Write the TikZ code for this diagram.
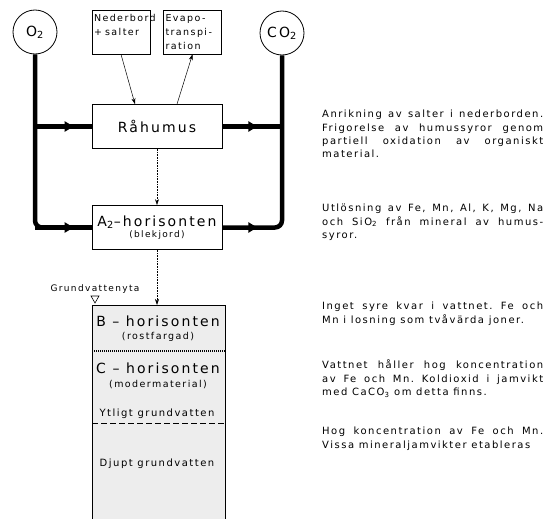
\documentclass[tikz,border=0pt]{standalone}
\usepackage{fontspec}
\setmainfont{DejaVu Sans}[LetterSpace=15]
\frenchspacing
\usetikzlibrary{arrows.meta,positioning,decorations.markings}

\tikzset{
  flow/.style={line width=4.5pt, rounded corners=7pt},
  flowarrow/.style={postaction={decorate}, decoration={markings,
      mark=at position #1 with {\arrow{Triangle[length=9pt,width=10pt]}}}},
  gas/.style={draw, circle, line width=0.8pt, minimum size=44pt, inner sep=0pt,
      font=\fontsize{14}{16}\selectfont},
  smallbox/.style={draw, line width=0.6pt, minimum width=58pt, minimum height=44pt,
      inner sep=2pt, text width=54pt, align=left, font=\fontsize{9.5}{14}\selectfont},
  horbox/.style={draw, line width=0.7pt, minimum width=130pt, minimum height=44pt,
      align=center},
  feed/.style={-{Stealth[length=6pt,width=4pt]}, line width=0.5pt},
  seep/.style={-{Stealth[length=6pt,width=4pt]}, densely dotted, line width=0.6pt},
  note/.style={anchor=north west, text width=221pt, align=justify, inner sep=0pt,
      font=\fontsize{10}{13.3}\selectfont},
  big/.style={font=\fontsize{14}{16}\selectfont},
  sub/.style={font=\fontsize{9.5}{11}\selectfont},
}

\begin{document}
\begin{tikzpicture}[x=1pt,y=-1pt]
  \useasboundingbox (0,0) rectangle (544,519);

  % gases and inputs
  \node[gas] (otwo)  at (35,32)  {O\textsubscript{2}};
  \node[gas] (cotwo) at (282,33) {CO\textsubscript{2}};
  \node[smallbox] (rain) at (121,32)   {Nederbord\\+ salter\\ \mbox{}};
  \node[smallbox] (evap) at (192.5,32) {Evapo-\\transpi-\\ration};

  % horizons
  \node[horbox, big] (raw)  at (157,126.5) {Råhumus};
  \node[horbox] (atwo) at (157,227.5)
       {{\fontsize{14}{16}\selectfont A\textsubscript{2}–horisonten}\\[-1pt]
        {\fontsize{9}{11}\selectfont (blekjord)}};

  % soil column
  \fill[black!7] (92,305) rectangle (225,519);
  \coordinate (coltop) at (157,305);
  \draw[line width=0.7pt] (92,519) |- (225,305) -- (225,519);
  \draw[line width=1.3pt, dash pattern=on 1pt off 1pt] (92,351) -- (225,351);
  \draw[line width=0.9pt, dash pattern=on 6pt off 3pt] (92,423) -- (225,423);
  \node[big] (bhor) at (158,321) {B – horisonten};
  \node[sub] (bsub) at (158,337) {(rostfargad)};
  \node[big] (chor) at (158,368) {C – horisonten};
  \node[sub] (csub) at (158,385) {(modermaterial)};
  \node[sub, font=\fontsize{10}{12}\selectfont] (ytl)  at (157,414) {Ytligt grundvatten};
  \node[sub, font=\fontsize{10}{12}\selectfont] (djup) at (157,464) {Djupt grundvatten};

  % groundwater table
  \node[font=\fontsize{9}{10}\selectfont] (gwlabel) at (95,289) {Grundvattenyta};
  \draw[line width=0.6pt] (91,296) -- (99,296) -- (95,303) -- cycle;

  % thin connectors
  \draw[feed] (rain.south) -- ([xshift=-22pt]raw.north);
  \draw[feed] ([xshift=20pt]raw.north) -- (evap.south);
  \draw[seep] (raw.south) -- (atwo.north);
  \draw[seep] (atwo.south) -- (coltop);

  % oxygen in, carbon dioxide out
  \draw[flow] (otwo.south) |- (atwo.west);
  \draw[flow, flowarrow=-18pt] (otwo.south |- atwo.west) -- (atwo.west);
  \draw[flow, flowarrow=-18pt] (otwo.south |- raw.west) -- (raw.west);
  \draw[flow, flowarrow=35pt] (raw.east) -- (raw.east -| cotwo.south);
  \draw[flow, flowarrow=35pt] (atwo.east) -| (cotwo.south);

  % processes
  \node[note] (n1) at (322,110) {Anrikning av salter i nederborden.\linebreak
    Frigorelse av humussyror genom\linebreak partiell oxidation av organiskt\linebreak material.};
  \node[note] (n2) at (322,204) {Utlösning av Fe, Mn, Al, K, Mg, Na\linebreak
    och SiO\textsubscript{2} från mineral av humus-\linebreak syror.};
  \node[note] (n3) at (322,302) {Inget syre kvar i vattnet. Fe och\linebreak
    Mn i losning som tvåvärda joner.};
  \node[note] (n4) at (322,360) {Vattnet håller hog koncentration\linebreak
    av Fe och Mn. Koldioxid i jamvikt\linebreak med CaCO\textsubscript{3} om detta finns.};
  \node[note] (n5) at (322,427) {Hog koncentration av Fe och Mn.\linebreak
    Vissa mineraljamvikter etableras};
\end{tikzpicture}
\end{document}
